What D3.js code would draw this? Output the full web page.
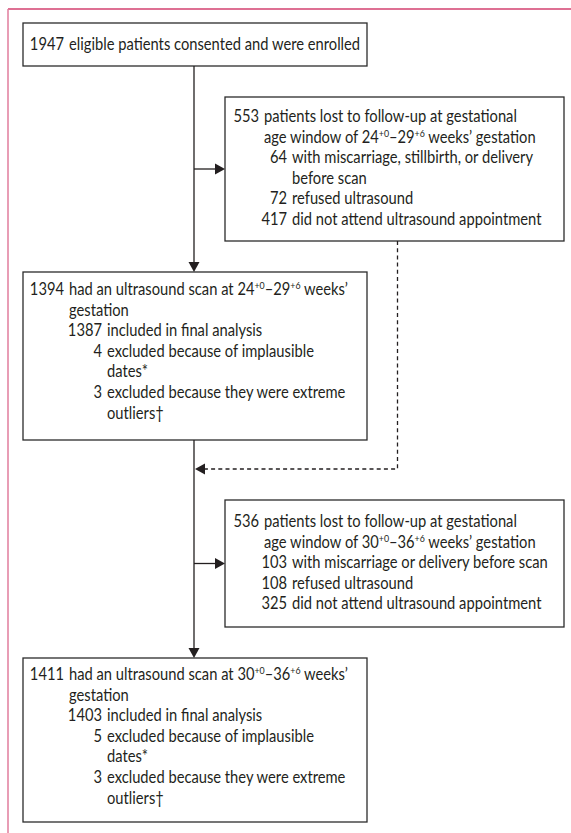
<!DOCTYPE html>
<html>
<head>
<meta charset="utf-8">
<script src="https://cdn.jsdelivr.net/npm/d3@7/dist/d3.min.js"></script>
<style>
  html, body { margin: 0; padding: 0; background: #fff; }
  svg { display: block; }
  text { font-family: Lato, "Open Sans", "Noto Sans", sans-serif; fill: #231f20; }
</style>
</head>
<body>
<svg id="chart" width="571" height="833"></svg>
<script>
// ---------------- data ----------------
const enrolledLines = [
  { n: "1947", t: "eligible patients consented and were enrolled", lvl: 0 }
];
const lostFirstLines = [
  { n: "553", t: "patients lost to follow-up at gestational", lvl: 0 },
  { n: "",    t: "age window of 24^{+0}–29^{+6} weeks’ gestation", lvl: 0 },
  { n: "64",  t: "with miscarriage, stillbirth, or delivery", lvl: 1 },
  { n: "",    t: "before scan", lvl: 1 },
  { n: "72",  t: "refused ultrasound", lvl: 1 },
  { n: "417", t: "did not attend ultrasound appointment", lvl: 1 }
];
const scanFirstLines = [
  { n: "1394", t: "had an ultrasound scan at 24^{+0}–29^{+6} weeks’", lvl: 0 },
  { n: "",     t: "gestation", lvl: 0 },
  { n: "1387", t: "included in final analysis", lvl: 1 },
  { n: "4",    t: "excluded because of implausible", lvl: 1 },
  { n: "",     t: "dates*", lvl: 1 },
  { n: "3",    t: "excluded because they were extreme", lvl: 1 },
  { n: "",     t: "outliers†", lvl: 1 }
];
const lostSecondLines = [
  { n: "536", t: "patients lost to follow-up at gestational", lvl: 0 },
  { n: "",    t: "age window of 30^{+0}–36^{+6} weeks’ gestation", lvl: 0 },
  { n: "103", t: "with miscarriage or delivery before scan", lvl: 1 },
  { n: "108", t: "refused ultrasound", lvl: 1 },
  { n: "325", t: "did not attend ultrasound appointment", lvl: 1 }
];
const scanSecondLines = [
  { n: "1411", t: "had an ultrasound scan at 30^{+0}–36^{+6} weeks’", lvl: 0 },
  { n: "",     t: "gestation", lvl: 0 },
  { n: "1403", t: "included in final analysis", lvl: 1 },
  { n: "5",    t: "excluded because of implausible", lvl: 1 },
  { n: "",     t: "dates*", lvl: 1 },
  { n: "3",    t: "excluded because they were extreme", lvl: 1 },
  { n: "",     t: "outliers†", lvl: 1 }
];

// ---------------- layout ----------------
const svg = d3.select("#chart");
const FS = 16.4;
const LINE = 20.6;
const INK = "#231f20";

// horizontal compression so the font matches the condensed original
const probe = svg.append("text").attr("font-size", FS).text(enrolledLines[0].t);
const sx = 291 / probe.node().getComputedTextLength();
probe.remove();

// frame
const frame = svg.append("g");
frame.append("line").attr("x1", 8).attr("x2", 571).attr("y1", 9).attr("y2", 9)
  .attr("stroke", "#d3416f").attr("stroke-width", 1.3);
frame.append("line").attr("x1", 8).attr("x2", 8).attr("y1", 9).attr("y2", 833)
  .attr("stroke", "#e07c9d").attr("stroke-width", 1.5);

const leftCols = { num0: 64, txt0: 69, num1: 102, txt1: 107 };
const rightCols = { num0: 259, txt0: 264, num1: 287, txt1: 292 };

const boxes = [
  { lines: enrolledLines,   x0: 23,  x1: 367, y0: 23,  y1: 66,  base: 50,  cols: leftCols },
  { lines: lostFirstLines,  x0: 225, x1: 564, y0: 97,  y1: 241, base: 122, cols: rightCols },
  { lines: scanFirstLines,  x0: 23,  x1: 367, y0: 272, y1: 440, base: 295, cols: leftCols },
  { lines: lostSecondLines, x0: 225, x1: 564, y0: 500, y1: 627, base: 527, cols: rightCols },
  { lines: scanSecondLines, x0: 23,  x1: 367, y0: 658, y1: 822, base: 680, cols: leftCols }
];

function addRich(sel, str) {
  const parts = str.split(/\^\{([^}]*)\}/);
  let raised = false;
  parts.forEach((p, i) => {
    if (p === "") return;
    const sup = i % 2 === 1;
    const ts = sel.append("tspan").text(p);
    if (sup && !raised) { ts.attr("dy", -6).attr("font-size", FS * 0.6); raised = true; }
    else if (sup) { ts.attr("font-size", FS * 0.6); }
    else if (raised) { ts.attr("dy", 6); raised = false; }
  });
}

const gBoxes = svg.selectAll("g.box").data(boxes).join("g").attr("class", "box");
gBoxes.append("rect")
  .attr("x", d => d.x0).attr("y", d => d.y0)
  .attr("width", d => d.x1 - d.x0).attr("height", d => d.y1 - d.y0)
  .attr("fill", "#fff").attr("stroke", "#2b2b2b").attr("stroke-width", 1.3);

gBoxes.each(function(b) {
  const g = d3.select(this);
  b.lines.forEach((ln, i) => {
    const y = b.base + i * LINE;
    const numX = ln.lvl === 0 ? b.cols.num0 : b.cols.num1;
    const txtX = ln.lvl === 0 ? b.cols.txt0 : b.cols.txt1;
    if (ln.n) {
      g.append("text").attr("transform", `translate(${numX},${y}) scale(${sx},1)`)
        .attr("text-anchor", "end").attr("font-size", FS).text(ln.n);
    }
    const t = g.append("text").attr("transform", `translate(${txtX},${y}) scale(${sx},1)`)
      .attr("font-size", FS);
    addRich(t, ln.t);
  });
});

// connectors
const trunkX = 194;
const conn = svg.append("g").attr("stroke", INK).attr("stroke-width", 1.3).attr("fill", "none");
function arrowHead(x, y, dir) {
  const L = 10, W = 5.5;
  let pts;
  if (dir === "down") pts = [[x, y], [x - W, y - L], [x + W, y - L]];
  else if (dir === "right") pts = [[x, y], [x - L, y - W], [x - L, y + W]];
  else pts = [[x, y], [x + L, y - W], [x + L, y + W]];
  svg.append("path").attr("d", d3.line()(pts) + "Z").attr("fill", INK);
}
const B = boxes;
// main trunk
conn.append("line").attr("x1", trunkX).attr("x2", trunkX).attr("y1", B[0].y1).attr("y2", B[2].y0 - 9);
arrowHead(trunkX, B[2].y0, "down");
conn.append("line").attr("x1", trunkX).attr("x2", trunkX).attr("y1", B[2].y1).attr("y2", B[4].y0 - 9);
arrowHead(trunkX, B[4].y0, "down");
// side arrows
[B[1], B[3]].forEach(b => {
  const ym = (b.y0 + b.y1) / 2;
  conn.append("line").attr("x1", trunkX).attr("x2", b.x0 - 9).attr("y1", ym).attr("y2", ym);
  arrowHead(b.x0, ym, "right");
});
// dashed return
const dashX = (B[1].x0 + B[1].x1) / 2 + 3;
const dashY = 469;
conn.append("path")
  .attr("d", `M${dashX},${B[1].y1} V${dashY} H${trunkX + 9}`)
  .attr("stroke-dasharray", "4,3.2");
arrowHead(trunkX + 1, dashY, "left");
</script>
</body>
</html>
